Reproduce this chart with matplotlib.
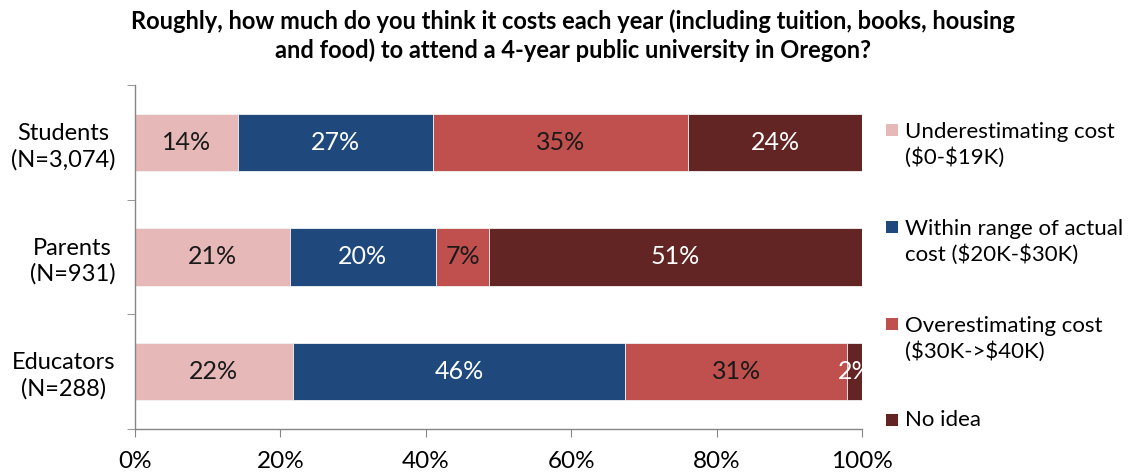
import matplotlib
matplotlib.use("Agg")
import matplotlib.pyplot as plt
from matplotlib.patches import Rectangle
import numpy as np

plt.rcParams['font.family'] = ['Lato', 'DejaVu Sans']
plt.rcParams['text.parse_math'] = False

groups = ["Students\n(N=3,074)", "Parents\n(N=931)", "Educators\n(N=288)"]
series = ["Underestimating cost\n($0-$19K)",
          "Within range of actual\ncost ($20K-$30K)",
          "Overestimating cost\n($30K->$40K)",
          "No idea"]
under = [14.2, 21.3, 21.7]
within = [26.8, 20.1, 45.7]
over = [35.1, 7.3, 30.6]
no_idea = [23.9, 51.3, 2.0]
colors = ["#E6B9B8", "#1F497D", "#C0504D", "#632523"]
label_colors = ["#1a1a1a", "white", "#1a1a1a", "white"]
xticks = [0, 20, 40, 60, 80, 100]

W, H = 1133, 476
fig = plt.figure(figsize=(W / 100, H / 100), dpi=100)
ax = fig.add_axes([135 / W, 1 - 429 / H, (862 - 135) / W, (429 - 85) / H])

y = np.arange(len(groups))
left = np.zeros(len(groups))
for vals, col, tcol in zip([under, within, over, no_idea], colors, label_colors):
    vals = np.array(vals)
    ax.barh(y, vals, left=left, height=0.5, color=col, edgecolor="#f2f2f2",
            linewidth=0.6, zorder=2)
    for yi, l, v in zip(y, left, vals):
        ax.text(l + v / 2, yi, f"{v:.0f}%", ha="center", va="center",
                color=tcol, fontsize=18, zorder=3)
    left = left + vals

ax.set_xlim(0, 100)
ax.set_ylim(2.5, -0.5)
ax.set_xticks(xticks)
ax.set_xticklabels([f"{t}%" for t in xticks], fontsize=17.5)
ax.set_yticks(y)
ax.set_yticklabels(groups, fontsize=17, multialignment="center", linespacing=1.27)
ax.set_yticks([-0.5, 0.5, 1.5, 2.5], minor=True)
ax.tick_params(axis="y", which="major", length=0, pad=14)
ax.tick_params(axis="y", which="minor", length=6, color="#868686", direction="out")
ax.tick_params(axis="x", which="major", length=6, color="#868686", direction="out", pad=10)
for side in ["top", "right"]:
    ax.spines[side].set_visible(False)
for side in ["left", "bottom"]:
    ax.spines[side].set_color("#868686")
    ax.spines[side].set_linewidth(1.0)

fig.text(573 / W, 1 - 36 / H,
         "Roughly, how much do you think it costs each year (including tuition, books, housing\n"
         "and food) to attend a 4-year public university in Oregon?",
         ha="center", va="center", fontsize=17, fontweight="bold", linespacing=1.27)

# legend drawn beside the axes
legend_y = [130, 227, 324, 420]
for lab, col, ly in zip(series, colors, legend_y):
    fig.add_artist(Rectangle((886 / W, 1 - (ly + 6) / H), 12 / W, 12 / H,
                             transform=fig.transFigure, facecolor=col, edgecolor="none"))
    nlines = lab.count("\n") + 1
    cy = ly + 15 * (nlines - 1)
    fig.text(905 / W, 1 - cy / H, lab, ha="left", va="center", fontsize=16,
             linespacing=1.33)

fig.savefig("out.png", dpi=100)
